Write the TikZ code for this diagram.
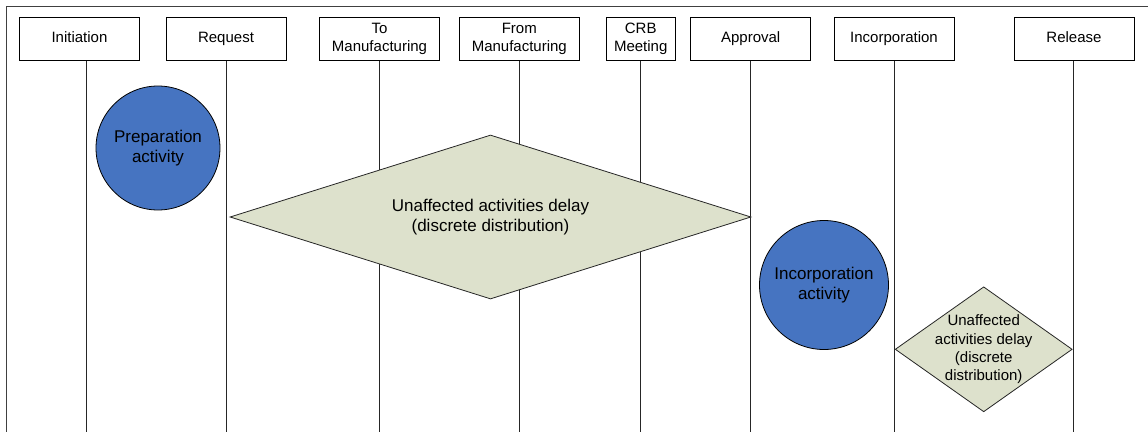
\documentclass[tikz,border=0pt]{standalone}
\usepackage{fontspec}
\setmainfont{Liberation Sans}
\usetikzlibrary{shapes.geometric}
\definecolor{actblue}{HTML}{4674C1}
\definecolor{delayfill}{HTML}{DDE1CC}
\definecolor{framegray}{HTML}{404040}
\tikzset{
  phasebox/.style={draw=black, line width=0.8pt, fill=white, minimum height=43pt, inner sep=0pt, align=center, font=\fontsize{15}{17.3}\selectfont},
  oneline/.style={text height=10.8pt, text depth=3.2pt},
  lifeline/.style={draw=black!85, line width=1pt},
  activity/.style={circle, draw=black, line width=0.8pt, fill=actblue, inner sep=0pt, align=center, font=\fontsize{17}{20.5}\selectfont},
  delay/.style={diamond, draw=black!85, line width=0.8pt, fill=delayfill, inner sep=0pt},
  delaytext/.style={align=center, inner sep=0pt},
}
\begin{document}
\begin{tikzpicture}[x=1pt, y=-1pt]
\clip (0,0) rectangle (1148,431);
\fill[white] (0,0) rectangle (1148,431);
% frame
\draw[framegray, line width=1.4pt] (6.3,445) -- (6.3,6.3) -- (1160,6.3);

% phase boxes
\node[phasebox, oneline, minimum width=120pt] (ini) at (79.5,38.8) {Initiation};
\node[phasebox, oneline, minimum width=120pt] (req) at (226,38.8) {Request};
\node[phasebox, minimum width=120pt] (tom) at (379.5,38.8) {To\\Manufacturing};
\node[phasebox, minimum width=120pt] (frm) at (519.3,38.8) {From\\Manufacturing};
\node[phasebox, minimum width=69.3pt] (crb) at (640.7,38.8) {CRB\\Meeting};
\node[phasebox, oneline, minimum width=120pt] (app) at (750.7,38.8) {Approval};
\node[phasebox, oneline, minimum width=120pt] (inc) at (894,38.8) {Incorporation};
\node[phasebox, oneline, minimum width=120pt] (rel) at (1074,38.8) {Release};

% lifeline ends
\coordinate (iniE) at (86.7,440);
\coordinate (reqE) at (226.3,440);
\coordinate (tomE) at (379.7,440);
\coordinate (frmE) at (519.3,440);
\coordinate (crbE) at (640.7,440);
\coordinate (appE) at (750.3,440);
\coordinate (incE) at (894,440);
\coordinate (relE) at (1073.7,440);
\foreach \b in {ini,req,tom,frm,crb,app,inc,rel}{
  \draw[lifeline] (\b.south -| \b E) -- (\b E);
}

% activities
\node[activity, minimum size=124pt] (prep) at (158,148) {Preparation\\activity};
\node[activity, minimum size=129pt] (incact) at (824,285) {Incorporation\\activity};

% delays
\node[delay, minimum width=521pt, minimum height=164pt] (bigd) at (490.5,217) {};
\node[delaytext, font=\fontsize{17}{20}\selectfont] (bigdt) at (bigd.center) {Unaffected activities delay\\(discrete distribution)};
\node[delay, minimum width=177pt, minimum height=125pt] (smd) at (983.7,349.3) {};
\node[delaytext, font=\fontsize{15}{18.3}\selectfont] (smdt) at (smd.center) {Unaffected\\activities delay\\(discrete\\distribution)};
\end{tikzpicture}
\end{document}
